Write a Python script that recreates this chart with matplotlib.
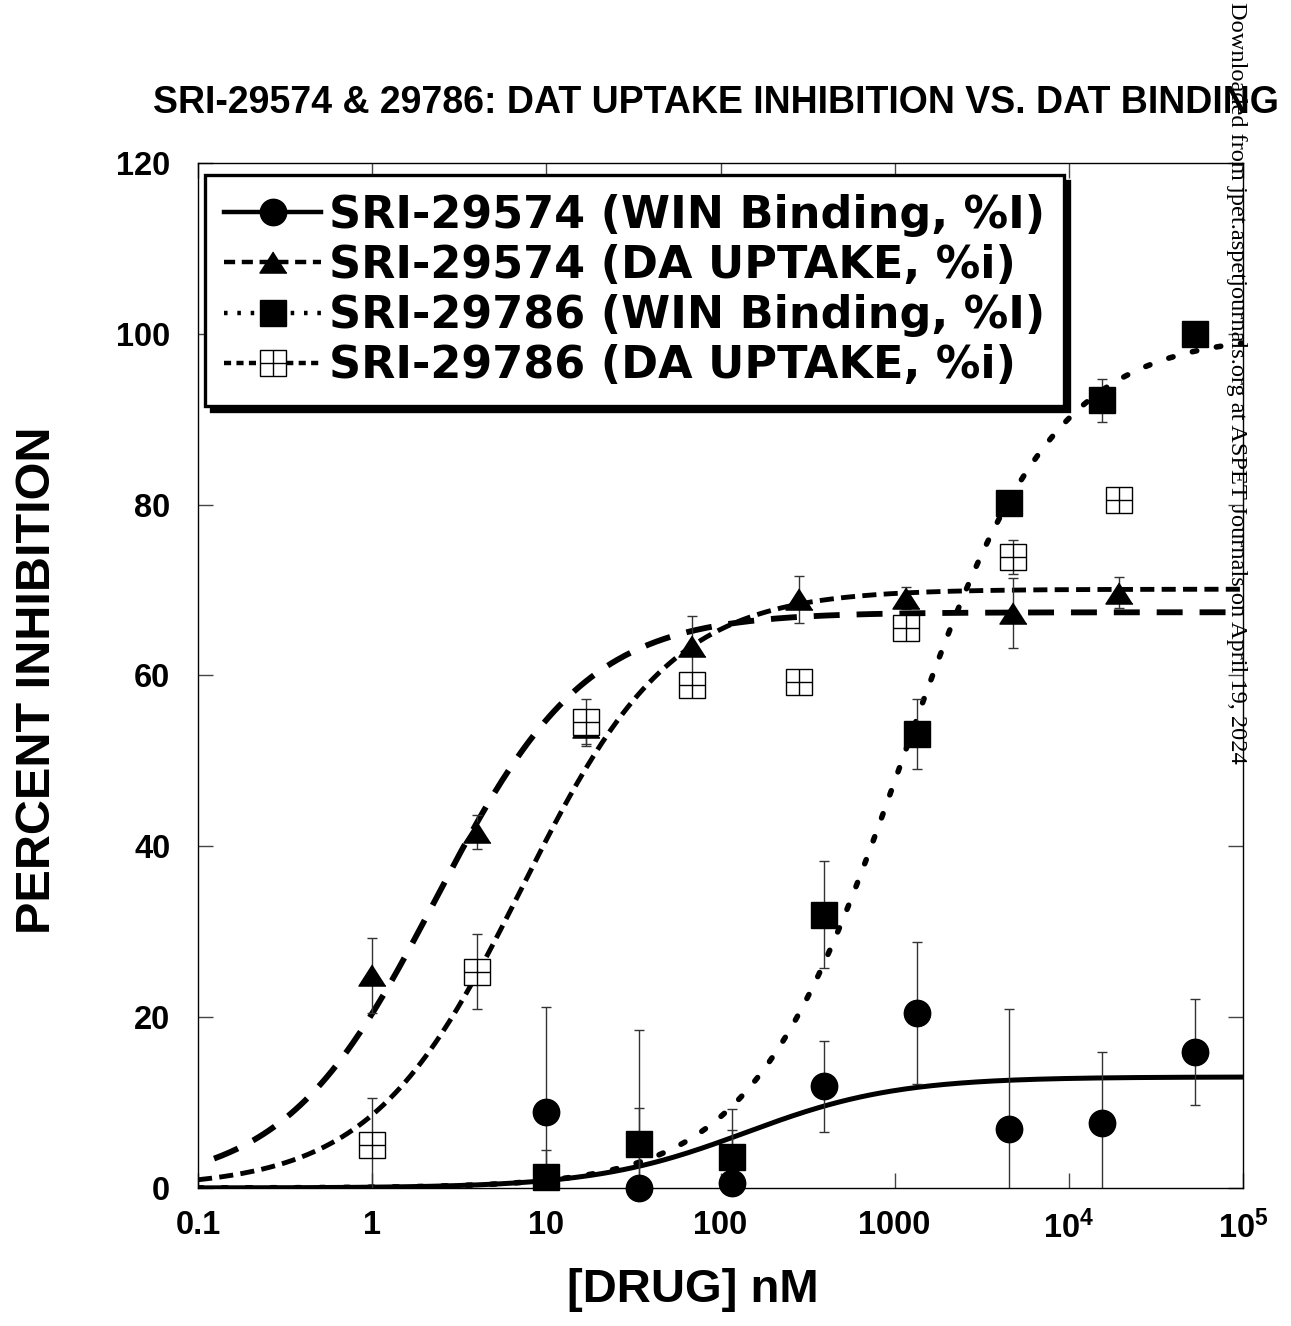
import numpy as np
import matplotlib
matplotlib.use('Agg')
import matplotlib.pyplot as plt
from matplotlib.lines import Line2D

plt.rcParams['font.family'] = ['Liberation Sans', 'DejaVu Sans']
plt.rcParams['font.weight'] = 'bold'
plt.rcParams['mathtext.fontset'] = 'custom'
plt.rcParams['mathtext.rm'] = 'Liberation Sans:bold'
plt.rcParams['mathtext.default'] = 'rm'

# SRI-29574, WIN binding (filled circles)
bind74_x = [10, 34, 116, 394, 1336, 4540, 15500, 52700]
bind74_y = [8.9, 0.0, 0.6, 11.9, 20.5, 6.9, 7.6, 15.9]
bind74_err = [12.3, 18.5, 6.2, 5.3, 8.3, 14.0, 8.3, 6.2]

# SRI-29574, DA uptake (filled triangles)
upt74_x = [1, 4, 17, 69, 283, 1159, 4755, 19460]
upt74_y = [24.9, 41.7, 54.0, 63.5, 68.9, 69.1, 67.3, 69.7]
upt74_err = [4.4, 2.0, 2.0, 3.5, 2.7, 1.3, 4.1, 1.8]

# SRI-29786, WIN binding (filled squares)
bind86_x = [10, 34, 116, 394, 1336, 4540, 15600, 52800]
bind86_y = [1.3, 5.2, 3.6, 32.0, 53.2, 80.2, 92.2, 100.0]
bind86_err = [3.2, 4.2, 5.6, 6.3, 4.1, 0.0, 2.5, 0.0]

# SRI-29786, DA uptake (open crossed squares)
upt86_x = [1, 4, 17, 69, 283, 1159, 4755, 19460]
upt86_y = [5.0, 25.3, 54.5, 58.9, 59.2, 65.5, 73.9, 80.5]
upt86_err = [5.5, 4.4, 2.7, 0.0, 0.0, 0.0, 2.0, 0.0]

# fitted sigmoid parameters (top, EC50 nM, slope)
fit_top = {'b74': 13.0, 'u74': 67.4, 'b86': 100.0, 'u86': 70.1}
fit_ec50 = {'b74': 140.0, 'u74': 2.3, 'b86': 1100.0, 'u86': 7.2}
fit_slope = {'b74': 1.0, 'u74': 1.0, 'b86': 1.0, 'u86': 1.0}

labels = ['SRI-29574 (WIN Binding, %I)', 'SRI-29574 (DA UPTAKE, %i)',
          'SRI-29786 (WIN Binding, %I)', 'SRI-29786 (DA UPTAKE, %i)']


def hill(x, key):
    return fit_top[key] / (1.0 + (fit_ec50[key] / x) ** fit_slope[key])


tri = [(0, 0.78), (-1, -0.78), (1, -0.78)]

fig = plt.figure(figsize=(12.91, 13.26), dpi=100)
ax = fig.add_axes([0.1534, 0.1041, 0.8094, 0.7730])
ax.set_xscale('log')
ax.set_xlim(0.1, 1e5)
ax.set_ylim(0, 120)

xx = np.logspace(-1, 5, 400)
ax.plot(xx, hill(xx, 'b74'), color='black', lw=3.6, solid_capstyle='butt', zorder=2)
ax.plot(xx, hill(xx, 'u74'), color='black', lw=4.2, ls=(4.45, (4.45, 2.9)),
        dash_capstyle='butt', zorder=2)
ax.plot(xx, hill(xx, 'b86'), color='black', lw=4.0, dashes=(0.8, 3.6),
        dash_capstyle='round', zorder=2)
ax.plot(xx, hill(xx, 'u86'), color='black', lw=3.5, dashes=(2.9, 1.5),
        dash_capstyle='butt', zorder=2)

for x, y, e in [(bind74_x, bind74_y, bind74_err), (upt74_x, upt74_y, upt74_err),
                (bind86_x, bind86_y, bind86_err), (upt86_x, upt86_y, upt86_err)]:
    ax.errorbar(x, y, yerr=e, fmt='none', ecolor='#333333', elinewidth=1.0,
                capsize=3.6, capthick=1.0, zorder=3)

ax.plot(upt74_x, upt74_y, ls='none', marker=tri, ms=19.5, color='black',
        clip_on=False, zorder=4)
ax.plot(upt86_x, upt86_y, ls='none', marker='s', ms=19, mfc='white', mec='black',
        mew=1.0, clip_on=False, zorder=5)
ax.plot(upt86_x, upt86_y, ls='none', marker='+', ms=19, mec='black', mew=1.0,
        clip_on=False, zorder=5)
ax.plot(bind86_x, bind86_y, ls='none', marker='s', ms=19, color='black',
        clip_on=False, zorder=6)
ax.plot(bind74_x, bind74_y, ls='none', marker='o', ms=19, color='black',
        clip_on=False, zorder=6)

ax.set_xticks([0.1, 1, 10, 100, 1000, 1e4, 1e5])
ax.set_xticklabels(['0.1', '1', '10', '100', '1000', '10$^{4}$', '10$^{5}$'])
ax.xaxis.set_minor_locator(matplotlib.ticker.NullLocator())
ax.set_yticks(np.arange(0, 121, 20))
ax.tick_params(axis='both', which='major', direction='in', length=11, width=1.0,
               color='#444444', top=True, right=True, labelsize=23.5)
ax.tick_params(axis='x', pad=16)
ax.tick_params(axis='y', pad=20)
for lab in ax.get_xticklabels() + ax.get_yticklabels():
    lab.set_fontweight('bold')
for sp in ax.spines.values():
    sp.set_linewidth(1.0)

# legend
h_b74 = Line2D([], [], color='black', lw=3.2, marker='o', ms=19)
h_u74 = Line2D([], [], color='black', lw=3.2, dashes=(2.5, 1.5), marker=tri, ms=19.5)
h_b86 = Line2D([], [], color='black', lw=3.2, dashes=(0.8, 2.2), marker='s', ms=19)
h_u86 = Line2D([], [], color='black', lw=3.2, dashes=(1.6, 1.2), marker='s', ms=19,
               mfc='white', mec='black', mew=1.0)
h_u86x = Line2D([], [], ls='none', marker='+', ms=19, mec='black', mew=1.0)
leg = ax.legend([h_b74, h_u74, h_b86, (h_u86, h_u86x)], labels, loc='upper left',
                bbox_to_anchor=(0.0067, 0.988), borderaxespad=0,
                prop={'size': 32, 'weight': 'bold', 'family': 'DejaVu Sans'},
                handlelength=2.2, handletextpad=0.16, labelspacing=0.16,
                borderpad=0.42, fancybox=False, framealpha=1, edgecolor='black',
                shadow={'ox': 4, 'oy': -4, 'color': 'black', 'alpha': 1})
leg.get_frame().set_linewidth(2.4)
leg.set_zorder(10)

fig.text(0.5547, 0.9223, 'SRI-29574 & 29786: DAT UPTAKE INHIBITION VS. DAT BINDING',
         ha='center', va='center', fontsize=27, fontweight='bold')
fig.text(0.0294, 0.487, 'PERCENT INHIBITION', rotation=90, ha='center', va='center',
         fontsize=35, fontweight='bold')
fig.text(0.537, 0.027, '[DRUG] nM', ha='center', va='center', fontsize=34,
         fontweight='bold')
fig.text(1236 / 1291, 1 - 2 / 1326,
         'Downloaded from jpet.aspetjournals.org at ASPET Journals on April 19, 2024',
         rotation=270, ha='center', va='top', fontsize=17.6, fontweight='normal',
         family=['Liberation Serif', 'DejaVu Serif'])

fig.savefig('out.png', dpi=100)
